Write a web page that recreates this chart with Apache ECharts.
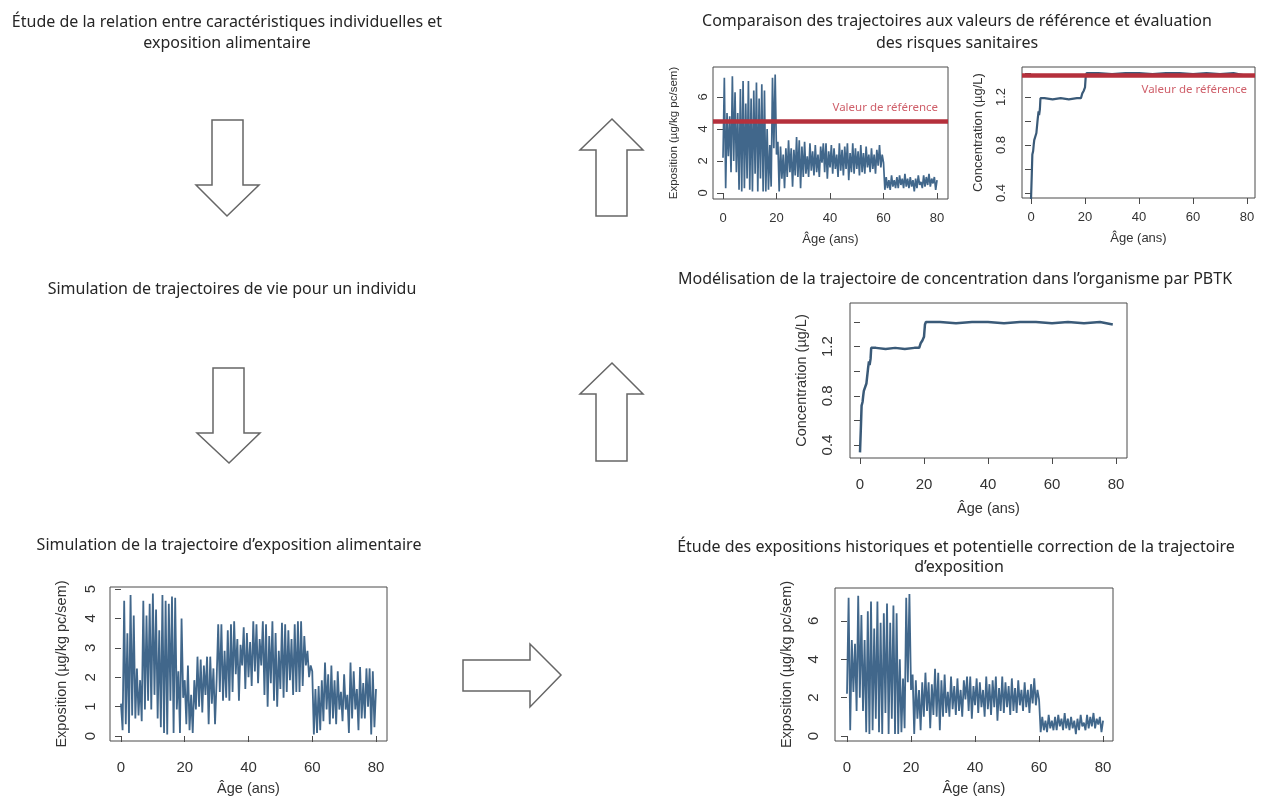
<!DOCTYPE html>
<html>
<head>
<meta charset="utf-8">
<script src="https://cdn.jsdelivr.net/npm/echarts@6/dist/echarts.min.js"></script>
<style>
html, body { margin: 0; padding: 0; background: #fff; }
#chart { width: 1261px; height: 798px; }
</style>
</head>
<body>
<div id="chart"></div>
<script>
// ---- donnees ----
var ageStep = 0.5 // un point tous les 6 mois, de 0 a 80 ans

// trajectoire d'exposition simulee (ug/kg pc/sem)
var expoSimulee = [
  1.1, 0.2, 4.6, 0.4, 3.5, 0.1, 4.8, 0.7, 4.1, 0.6,
  2.3, 0.7, 1.9, 0.5, 4.6, 0.9, 4.1, 1.2, 4.5, 0.9,
  4.85, 1.4, 4.3, 0.6, 3.6, 0.3, 4.8, 0.1, 4.6, 0.05,
  4.5, 1.2, 4.75, 0.1, 4.7, 0.9, 2.2, 0.1, 4.0, 1.3,
  1.9, 0.4, 2.4, 0.2, 1.4, 0.1, 1.9, 0.9, 2.7, 1.0,
  2.6, 0.8, 2.4, 1.4, 2.7, 0.4, 2.7, 1.1, 2.3, 0.4,
  1.9, 3.8, 1.5, 3.8, 1.2, 2.9, 1.3, 3.6, 1.2, 3.8,
  1.5, 3.9, 2.1, 3.3, 1.2, 3.1, 2.4, 3.7, 1.6, 3.5,
  2.0, 3.2, 1.7, 3.9, 2.2, 3.8, 1.8, 3.3, 2.4, 3.9,
  1.4, 3.8, 1.0, 3.4, 1.8, 3.9, 1.2, 3.5, 1.0, 2.9,
  1.6, 3.85, 1.3, 3.8, 1.5, 3.6, 1.9, 3.3, 1.4, 3.8,
  1.5, 3.9, 1.5, 3.9, 1.7, 3.4, 2.4, 2.9, 2.0, 2.4,
  2.2, 0.05, 1.6, 0.1, 1.7, 0.2, 1.9, 0.5, 2.5, 0.9,
  2.1, 0.4, 2.4, 0.6, 1.9, 0.4, 2.2, 0.9, 1.5, 0.5,
  2.1, 0.9, 1.4, 0.1, 2.5, 0.6, 2.2, 0.9, 1.6, 0.2,
  2.35, 0.6, 1.8, 0.6, 2.3, 1.0, 2.3, 0.05, 2.2, 0.3,
  1.6
]

// trajectoire d'exposition corrigee apres etude des expositions historiques
var expoCorrigee = [
  2.2, 7.2, 0.3, 5.0, 2.3, 4.8, 1.3, 7.3, 2.0, 6.3,
  1.3, 5.0, 0.2, 6.5, 0.1, 7.0, 0.3, 5.6, 0.9, 7.0,
  0.2, 5.9, 0.1, 6.4, 1.2, 6.9, 0.1, 5.9, 0.9, 6.8,
  0.1, 6.4, 0.1, 4.0, 0.2, 3.0, 0.4, 7.2, 2.8, 7.4,
  2.4, 3.2, 0.1, 2.9, 0.9, 2.4, 0.3, 2.8, 1.0, 3.3,
  1.3, 2.8, 0.4, 2.7, 1.1, 3.5, 1.0, 3.3, 0.3, 2.9,
  1.0, 3.2, 1.2, 2.3, 1.0, 3.1, 1.4, 2.6, 1.1, 3.0,
  1.3, 2.4, 1.0, 2.9, 1.9, 3.1, 1.3, 3.1, 0.9, 2.6,
  1.6, 3.0, 1.2, 2.8, 1.5, 2.4, 1.0, 3.1, 1.4, 2.7,
  1.1, 2.9, 1.5, 3.1, 0.8, 2.5, 1.3, 3.1, 1.2, 2.8,
  1.5, 2.6, 1.1, 3.0, 1.3, 2.5, 1.2, 2.9, 1.6, 2.4,
  1.3, 2.8, 1.5, 2.4, 1.2, 2.7, 1.7, 3.0, 1.6, 2.4,
  1.9, 0.2, 1.0, 0.3, 0.8, 0.2, 1.1, 0.4, 0.8, 0.3,
  1.0, 0.3, 1.1, 0.5, 0.9, 0.3, 1.2, 0.4, 0.9, 0.3,
  1.0, 0.4, 0.8, 0.1, 0.9, 0.3, 1.1, 0.5, 0.7, 0.3,
  1.1, 0.4, 1.0, 0.5, 1.2, 0.4, 0.9, 0.6, 1.0, 0.2,
  0.8
]

// trajectoire de concentration (modele PBTK), ug/L
var concAges = [0, 0.3, 0.5, 0.8, 1.0, 1.2, 1.5, 2.0, 2.5, 2.8, 3.0, 3.3, 3.5, 5, 8, 11, 14, 17, 18.5, 19, 19.5, 20, 20.3, 20.6, 25, 30, 35, 40, 45, 50, 55, 60, 65, 70, 75, 79]
var concValues = [0.34, 0.56, 0.72, 0.75, 0.8, 0.84, 0.85, 0.9, 1.02, 1.08, 1.05, 1.1, 1.19, 1.19, 1.18, 1.19, 1.18, 1.19, 1.19, 1.23, 1.25, 1.28, 1.38, 1.40, 1.40, 1.39, 1.40, 1.40, 1.39, 1.40, 1.40, 1.39, 1.40, 1.39, 1.40, 1.38]

var refExpo = 4.5
var refConc = 1.375

var xTicks = [0, 20, 40, 60, 80]
var yTicksExpoSim = [0, 1, 2, 3, 4, 5]
var yTicksExpoCorr = [0, 2, 4, 6]
var yTicksConc = [0.4, 0.6, 0.8, 1.0, 1.2, 1.4]
var yLabelsConc = [0.4, 0.8, 1.2]

var xName = 'Âge (ans)'
var yNameExpo = 'Exposition (µg/kg pc/sem)'
var yNameConc = 'Concentration (µg/L)'

// ---- mise en page ----
var lineBlue = '#41678b'
var refRed = '#b5303c'
var txtColor = '#333'
var axisFont = 'Liberation Sans'
var titleFont = '"Noto Sans"'

function pairs(xs, ys) {
  return ys.map(function(v, i) { return [xs[i], v] })
}

var ages = expoSimulee.map(function(v, i) { return i * ageStep })

// un panneau = une grille facon R (cadre + graduations exterieures)
var panels = [
  { box: [713, 67, 235, 132], x: [-3.74, 84.1], y: [-0.375, 7.875], yt: yTicksExpoCorr, yl: yTicksExpoCorr, yName: yNameExpo,
    fs: 13, nfs: 13, yfs: 11.5, xm: 13, xg: 34, ym: 3, yg: 33 },
  { box: [1022, 67, 233, 131], x: [-3.33, 82.96], y: [0.358, 1.45], yt: yTicksConc, yl: yLabelsConc, yName: yNameConc,
    fs: 13, nfs: 13, yfs: 13, xm: 13, xg: 34, ym: 14, yg: 37 },
  { box: [850, 303, 277, 155], x: [-3.125, 83.44], y: [0.294, 1.555], yt: yTicksConc, yl: yLabelsConc, yName: yNameConc,
    fs: 15, nfs: 14.5, yfs: 14.5, xm: 19, xg: 43, ym: 15, yg: 41 },
  { box: [110, 587, 277, 154], x: [-3.45, 83.45], y: [-0.17, 5.07], yt: yTicksExpoSim, yl: yTicksExpoSim, yName: yNameExpo,
    fs: 15, nfs: 14.5, yfs: 14.5, xm: 19, xg: 40, ym: 12, yg: 41 },
  { box: [835, 588, 278, 153], x: [-3.75, 83.1], y: [-0.26, 7.71], yt: yTicksExpoCorr, yl: yTicksExpoCorr, yName: yNameExpo,
    fs: 15, nfs: 14.5, yfs: 14.5, xm: 19, xg: 40, ym: 14, yg: 41 }
]

var grids = []
var xAxes = []
var yAxes = []
panels.forEach(function(p, i) {
  grids.push({
    left: p.box[0], top: p.box[1], width: p.box[2], height: p.box[3],
    show: true, borderColor: '#4a4a4a', borderWidth: 1, containLabel: false
  })
  xAxes.push({
    gridIndex: i, type: 'value', min: p.x[0], max: p.x[1],
    axisLine: { show: false },
    axisTick: { show: true, length: 6, customValues: xTicks, lineStyle: { color: '#4a4a4a' } },
    axisLabel: { customValues: xTicks, fontSize: p.fs, fontFamily: axisFont, color: txtColor, margin: p.xm },
    splitLine: { show: false },
    name: xName, nameLocation: 'middle', nameGap: p.xg,
    nameTextStyle: { fontSize: p.nfs, fontFamily: axisFont, color: txtColor }
  })
  yAxes.push({
    gridIndex: i, type: 'value', min: p.y[0], max: p.y[1],
    axisLine: { show: false },
    axisTick: { show: true, length: 6, customValues: p.yt, lineStyle: { color: '#4a4a4a' } },
    axisLabel: { customValues: p.yl, rotate: 90, fontSize: p.fs, fontFamily: axisFont, color: txtColor, margin: p.ym },
    splitLine: { show: false },
    name: p.yName, nameLocation: 'middle', nameRotate: 90, nameGap: p.yg,
    nameTextStyle: { fontSize: p.yfs, fontFamily: axisFont, color: txtColor }
  })
})

function refLine(value, pos, dist) {
  return {
    silent: true, symbol: 'none', animation: false,
    data: [{ yAxis: value }],
    lineStyle: { color: refRed, width: 4.5, type: 'solid', opacity: 1 },
    label: { show: true, position: pos, distance: dist, formatter: 'Valeur de référence',
      color: '#cf5f6a', fontSize: 11.5, fontFamily: titleFont }
  }
}

var series = [
  { type: 'line', xAxisIndex: 0, yAxisIndex: 0, showSymbol: false, z: 2,
    data: pairs(ages, expoCorrigee), lineStyle: { color: lineBlue, width: 1.7 },
    markLine: refLine(refExpo, 'insideEndTop', [10, 7]) },
  { type: 'line', xAxisIndex: 1, yAxisIndex: 1, data: [], z: 1,
    markLine: refLine(refConc, 'insideEndBottom', [8, 8]) },
  { type: 'line', xAxisIndex: 1, yAxisIndex: 1, showSymbol: false, z: 3,
    data: pairs(concAges, concValues), lineStyle: { color: '#3a5a78', width: 2.2 } },
  { type: 'line', xAxisIndex: 2, yAxisIndex: 2, showSymbol: false,
    data: pairs(concAges, concValues), lineStyle: { color: '#3a5a78', width: 2.5 } },
  { type: 'line', xAxisIndex: 3, yAxisIndex: 3, showSymbol: false,
    data: pairs(ages, expoSimulee), lineStyle: { color: lineBlue, width: 1.8 } },
  { type: 'line', xAxisIndex: 4, yAxisIndex: 4, showSymbol: false,
    data: pairs(ages, expoCorrigee), lineStyle: { color: lineBlue, width: 1.8 } }
]

// titres des etapes
var titles = [
  ['Étude de la relation entre caractéristiques individuelles et', 227, 22],
  ['exposition alimentaire', 227, 43],
  ['Comparaison des trajectoires aux valeurs de référence et évaluation', 957, 21],
  ['des risques sanitaires', 957, 43],
  ['Simulation de trajectoires de vie pour un individu', 232, 289],
  ['Modélisation de la trajectoire de concentration dans l’organisme par PBTK', 955, 279],
  ['Simulation de la trajectoire d’exposition alimentaire', 229, 545],
  ['Étude des expositions historiques et potentielle correction de la trajectoire', 956, 547],
  ['d’exposition', 959, 567]
]

// fleches du schema
var arrows = [
  [[212, 120], [243, 120], [243, 185], [259, 185], [227, 216], [196, 185], [212, 185]],
  [[213, 368], [244, 368], [244, 433], [260, 433], [229, 463], [197, 433], [213, 433]],
  [[612, 119], [643, 150], [627, 150], [627, 216], [596, 216], [596, 150], [580, 150]],
  [[612, 363], [643, 394], [627, 394], [627, 461], [596, 461], [596, 394], [580, 394]],
  [[463, 660], [530, 660], [530, 644], [561, 675], [530, 707], [530, 691], [463, 691]]
]

var graphics = []
titles.forEach(function(t) {
  graphics.push({
    type: 'text', x: t[1], y: t[2], silent: true,
    style: { text: t[0], align: 'center', verticalAlign: 'middle', fill: '#262626',
      font: '16px ' + titleFont }
  })
})
arrows.forEach(function(pts) {
  graphics.push({
    type: 'polygon', silent: true, shape: { points: pts },
    style: { fill: '#fff', stroke: '#666', lineWidth: 1.5 }
  })
})

var chart = echarts.init(document.getElementById('chart'), null, { renderer: 'canvas' })
chart.setOption({
  animation: false,
  backgroundColor: '#fff',
  grid: grids,
  xAxis: xAxes,
  yAxis: yAxes,
  series: series,
  graphic: graphics
})
</script>
</body>
</html>
